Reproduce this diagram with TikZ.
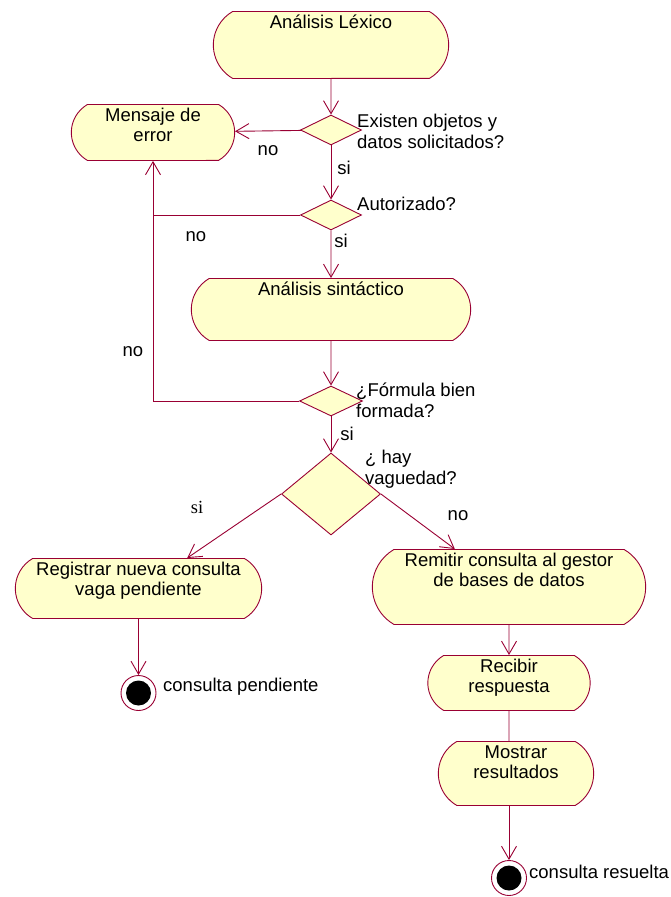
\documentclass[tikz,border=0pt]{standalone}
\usepackage{fontspec}
\setmainfont{Liberation Sans}
\newfontfamily\serifsi{Liberation Serif}
\usetikzlibrary{shapes.geometric,shapes.misc,arrows.meta}
\definecolor{granate}{RGB}{153,0,51}
\definecolor{crema}{RGB}{255,255,204}
\tikzset{
  act/.style={rounded rectangle, rounded rectangle arc length=120, draw=granate, fill=crema,
    line width=0.9pt, anchor=north, align=center, inner ysep=4pt, text height=13pt},
  dos/.style={text height=33.5pt},
  deci/.style={diamond, draw=granate, fill=crema, line width=0.9pt, inner sep=0pt},
  fin/.style={circle, draw=granate, fill=white, line width=0.9pt, minimum size=35pt, inner sep=0pt,
    path picture={\fill[black] (path picture bounding box.center) circle (12.5pt);}},
  flujo/.style={draw=granate, line width=0.9pt},
  flecha/.style={flujo, -{Straight Barb[length=13pt,width=15pt]}},
  txt/.style={inner sep=0pt, align=left},
}
\begin{document}
\begin{tikzpicture}[x=1pt,y=-1pt,font=\fontsize{18.5}{20.5}\selectfont]
\useasboundingbox (0,0) rectangle (671,897);
% actividades
\node[act, minimum width=242pt, text depth=46pt] (lex) at (331,11) {Análisis Léxico};
\node[act, dos, minimum width=170pt, text depth=14.5pt] (err) at (153,104) {Mensaje de\\error};
\node[act, minimum width=286pt, text depth=41pt] (sin) at (331,278) {Análisis sintáctico};
\node[act, dos, minimum width=253pt, text depth=18.5pt] (reg) at (138.5,558) {Registrar nueva consulta\\vaga pendiente};
\node[act, dos, minimum width=280pt, text depth=33.5pt] (rem) at (509,549) {Remitir consulta al gestor\\de bases de datos};
\node[act, dos, minimum width=169pt, text depth=13.5pt] (rec) at (509,655) {Recibir\\respuesta};
\node[act, dos, minimum width=162pt, text depth=22.5pt] (mos) at (516,741) {Mostrar\\resultados};
% decisiones
\node[deci, minimum width=61pt, minimum height=30pt] (d1) at (331,130) {};
\node[deci, minimum width=61pt, minimum height=30pt] (d2) at (331,215) {};
\node[deci, minimum width=63pt, minimum height=30pt] (d3) at (331,401) {};
\node[deci, minimum width=99pt, minimum height=82pt] (d4) at (331,494) {};
\node[txt, anchor=north west] (q1) at (357,114) {Existen objetos y\\datos solicitados?};
\node[txt, anchor=base west] (q2) at (357,210) {Autorizado?};
\node[txt, anchor=north west] (q3) at (356,383) {¿Fórmula bien\\formada?};
\node[txt, anchor=north west] (q4) at (365,450) {¿ hay\\vaguedad?};
% estados finales
\node[fin] (fin1) at (138.5,693) {};
\node[fin] (fin2) at (509,878) {};
\node[txt, anchor=west] (t1) at (163,687) {consulta pendiente};
\node[txt, anchor=west] (t2) at (529,872) {consulta resuelta};
% flujos
\draw[flecha] (lex) -- (d1);
\draw[flecha] (d1) -- (err);
\draw[flecha] (d1) -- (d2);
\draw[flecha] (d2.west) -| (err);
\draw[flujo] (d3.west) -| (d2.west -| err.south);
\draw[flecha] (d2) -- (sin);
\draw[flecha] (sin) -- (d3);
\draw[flecha] (d3) -- (d4);
\draw[flecha] (d4.west) -- (reg.32);
\draw[flecha] (d4.east) -- (rem.145);
\draw[flecha] (reg) -- (fin1);
\draw[flecha] (rem) -- (rec);
\draw[flujo] (rec) -- (rec.south |- mos.north);
\draw[flecha] (fin2 |- mos.south) -- (fin2);
% etiquetas
\node (no1) at (268,151) {no};
\node (si1) at (344,168) {si};
\node (no2) at (196,237) {no};
\node (si2) at (341,241) {si};
\node (no3) at (133,352) {no};
\node (si3) at (347,434) {si};
\node (si4) at (197,507) {\serifsi si};
\node (no4) at (458,516) {no};
\end{tikzpicture}
\end{document}
